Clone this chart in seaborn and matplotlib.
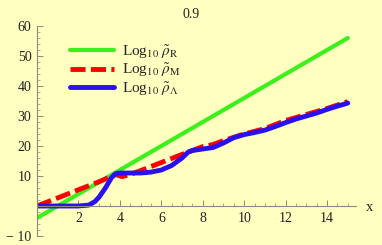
import numpy as np
import pandas as pd
import matplotlib
matplotlib.use('Agg')
import matplotlib.pyplot as plt
import seaborn as sns
from matplotlib.ticker import MultipleLocator, FuncFormatter

# values
green_x = [0, 15]
green_y = [-4, 56]

red_x = [0, 1, 2, 3, 3.8, 4.1, 4.5, 5, 6, 7, 7.5, 8, 8.5, 9, 10, 11, 12, 13, 14, 15]
red_y = [0, 2.7, 5.4, 8.1, 10.5, 9.8, 10.5, 11.8, 14.5, 17.2, 18.5, 19.8, 20.5, 21.8,
         24.0, 25.8, 28.5, 30.5, 32.5, 34.8]

blue_x = [0, 1, 2, 2.5, 2.8, 3.0, 3.3, 3.6, 3.8, 4.0, 5, 5.5, 6, 6.5, 7, 7.3, 7.5, 8,
          8.5, 9, 9.5, 10, 10.5, 11, 11.5, 12, 12.5, 13, 13.5, 14, 14.5, 15]
blue_y = [0, 0, 0, 0.3, 1.5, 3, 6, 9.5, 10.8, 11, 11, 11.3, 12, 13.5, 16, 18, 18.5, 19,
          19.5, 21, 22.8, 23.8, 24.5, 25.3, 26.5, 27.8, 29, 30, 31, 32.2, 33.3, 34.3]

labels = [r'Log$_{10}$ $\tilde{\rho}_{\mathrm{R}}$',
          r'Log$_{10}$ $\tilde{\rho}_{\mathrm{M}}$',
          r'Log$_{10}$ $\tilde{\rho}_{\Lambda}$']

BG = '#ffffc0'
AXIS_COLOR = '#8a8a80'

sns.set_style('white')
plt.rcParams['font.family'] = ['Liberation Serif', 'DejaVu Serif']
plt.rcParams['mathtext.fontset'] = 'stix'

fig = plt.figure(figsize=(3.82, 2.45), dpi=100, facecolor=BG)
ax = fig.add_axes([37.0/382, 9.0/245, 319.5/382, 210.0/245])
ax.set_facecolor(BG)

sns.lineplot(x=green_x, y=green_y, ax=ax, color='#3cf01c', linewidth=3.0, label=labels[0])
sns.lineplot(x=red_x, y=red_y, ax=ax, color='#ff0000', linewidth=3.5, label=labels[1])
ax.lines[-1].set_dashes([3.1, 1.1])
sns.lineplot(x=blue_x, y=blue_y, ax=ax, color='#2a10f0', linewidth=3.5, label=labels[2])
for ln in ax.lines:
    ln.set_solid_capstyle('round')
    ln.set_dash_capstyle('butt')

ax.set_xlim(0, 15.42)
ax.set_ylim(-10, 60)

for s in ['top', 'right']:
    ax.spines[s].set_visible(False)
ax.spines['bottom'].set_position(('data', 0))
ax.spines['left'].set_position(('data', 0))
for s in ['bottom', 'left']:
    ax.spines[s].set_color(AXIS_COLOR)
    ax.spines[s].set_linewidth(0.8)

ax.xaxis.set_major_locator(MultipleLocator(2))
ax.xaxis.set_minor_locator(MultipleLocator(0.5))
ax.yaxis.set_major_locator(MultipleLocator(10))
ax.yaxis.set_minor_locator(MultipleLocator(2))

def fmt(v, pos):
    if abs(v) < 1e-9:
        return ''
    if v < 0:
        return '\u2212 %d' % abs(v)
    return '%d' % v

ax.xaxis.set_major_formatter(FuncFormatter(fmt))
ax.yaxis.set_major_formatter(FuncFormatter(fmt))
ax.tick_params(which='major', direction='in', length=4, width=0.7, color=AXIS_COLOR,
               labelsize=10, labelcolor='#222222', pad=4, bottom=True, left=True)
ax.tick_params(which='minor', direction='in', length=2, width=0.5, color=AXIS_COLOR,
               bottom=True, left=True)

ax.grid(False)

leg = ax.legend(loc='upper left', bbox_to_anchor=(0.06, 0.985), frameon=False,
                fontsize=11, handlelength=2.9, handletextpad=0.5, labelspacing=0.05)

fig.text(0.5, 1 - 14.0/245, '0.9', ha='center', va='center', fontsize=10, color='#222222')
fig.text(370.0/382, 1 - 207.0/245, 'x', ha='center', va='center', fontsize=10.5, color='#222222')

plt.savefig('out.png', dpi=100, facecolor=BG)
plt.close()
